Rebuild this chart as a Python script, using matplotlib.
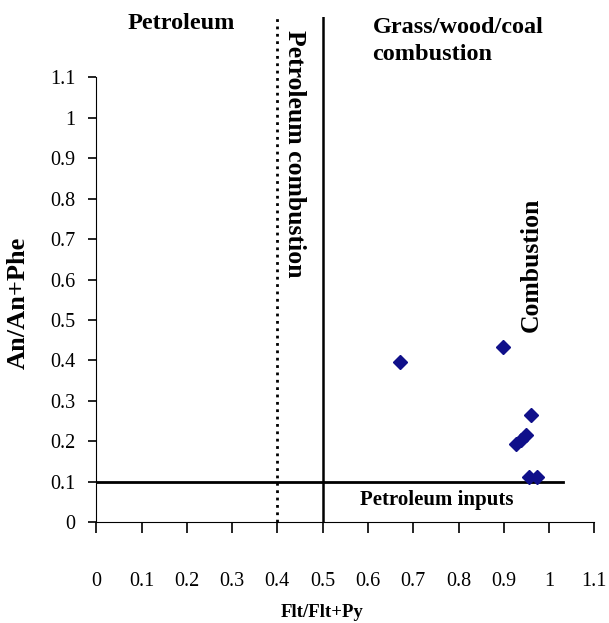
# encoding utf-8

from matplotlib import pyplot as plt

# diagnostic ratios
flt_ratio = [0.670, 0.898, 0.961, 0.928, 0.939, 0.949, 0.955, 0.973]
an_ratio = [0.397, 0.432, 0.266, 0.193, 0.203, 0.215, 0.112, 0.112]

x_ticks = [0, 0.1, 0.2, 0.3, 0.4, 0.5, 0.6, 0.7, 0.8, 0.9, 1, 1.1]
y_ticks = [0, 0.1, 0.2, 0.3, 0.4, 0.5, 0.6, 0.7, 0.8, 0.9, 1, 1.1]
x_labels = ['0', '0.1', '0.2', '0.3', '0.4', '0.5', '0.6', '0.7', '0.8', '0.9', '1', '1.1']
y_labels = ['0', '0.1', '0.2', '0.3', '0.4', '0.5', '0.6', '0.7', '0.8', '0.9', '1', '1.1']

# threshold lines
petro_cut = 0.4
grass_cut = 0.5
an_cut = 0.1

plt.rcParams['font.family'] = ['Liberation Serif', 'DejaVu Serif']

fig = plt.figure(figsize=(6.09, 6.23), dpi=100)
ax = fig.add_axes([0.158, 0.162, 0.818, 0.811])

ax.plot(flt_ratio, an_ratio, 'D', color='#10108a', markersize=7, zorder=3)

# source separation lines
ax.plot([petro_cut, petro_cut], [0, 1.25], color='black', linestyle=':', linewidth=2)
ax.plot([grass_cut, grass_cut], [0, 1.25], color='black', linewidth=1.8)
ax.plot([0, 1.03], [an_cut, an_cut], color='black', linewidth=2)

ax.set_xlim(0, 1.1)
ax.set_ylim(0, 1.25)
ax.set_xticks(x_ticks)
ax.set_xticklabels(x_labels)
ax.set_yticks(y_ticks)
ax.set_yticklabels(y_labels)
ax.spines['top'].set_visible(False)
ax.spines['right'].set_visible(False)
ax.spines['left'].set_bounds(0, 1.1)
ax.tick_params(axis='x', direction='out', length=8, width=1.2, pad=28, labelsize=14.5)
ax.tick_params(axis='y', direction='out', length=6, width=1.2, pad=9, labelsize=14.5)

# region labels
ax.text(0.188, 1.233, 'Petroleum', fontsize=17.5, fontweight='bold', ha='center', va='center')
ax.text(0.61, 1.25, 'Grass/wood/coal\ncombustion', fontsize=17.5, fontweight='bold',
        ha='left', va='top', linespacing=1.4)
ax.text(0.437, 0.91, 'Petroleum combustion', fontsize=18.5, fontweight='bold',
        rotation=-90, ha='center', va='center')
ax.text(0.961, 0.636, 'Combustion', fontsize=18.5, fontweight='bold',
        rotation=90, ha='center', va='center')
ax.text(0.753, 0.054, 'Petroleum inputs', fontsize=15, fontweight='bold',
        ha='center', va='center')

# label the axes
ax.set_xlabel('Flt/Flt+Py', fontsize=13.5, fontweight='bold', va='center')
ax.xaxis.set_label_coords(0.454, -0.178)
ax.set_ylabel('An/An+Phe', fontsize=19, fontweight='bold', va='center')
ax.yaxis.set_label_coords(-0.157, 0.434)

plt.savefig('out.png', dpi=100)
